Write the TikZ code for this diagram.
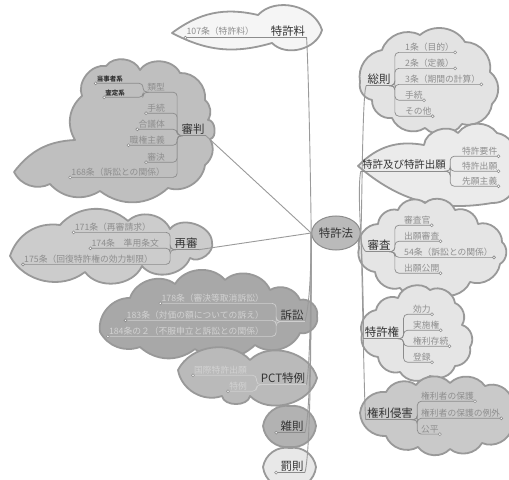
\documentclass[tikz,border=0pt]{standalone}
\usepackage{fontspec}
\setmainfont{Noto Sans CJK JP}
\usetikzlibrary{shapes.geometric}
\definecolor{txtmain}{HTML}{333333}
\definecolor{txtsub}{HTML}{8E8E8E}
\definecolor{txtpale}{HTML}{D2D2D2}
\definecolor{ulc}{HTML}{8C8C8C}
\definecolor{ulpale}{HTML}{CFCFCF}
\definecolor{connc}{HTML}{9A9A9A}
\definecolor{cloudc}{HTML}{999999}
\newcommand\mfs{\fontsize{11.5}{13}\selectfont}
\newcommand\mfss{\fontsize{10.5}{12}\selectfont}
\newcommand\sfs{\fontsize{8.8}{10}\selectfont}
\newcommand\tfs{\fontsize{6.5}{8}\selectfont\bfseries}
\tikzset{
  mlbl/.style={inner sep=1.2bp, text=txtmain, font=\mfs},
  slbl/.style={inner sep=1bp, text=txtsub, font=\sfs},
  plbl/.style={inner sep=1bp, text=txtpale, font=\sfs},
  tlbl/.style={inner sep=1bp, text=txtmain, font=\tfs},
  ul/.style={draw=ulc, line width=0.7bp, rounded corners=4bp},
  ulp/.style={draw=ulpale, line width=0.7bp, rounded corners=4bp},
  uldot/.style={circle, draw=ulc, fill=white, line width=0.6bp, inner sep=0pt, minimum size=3bp},
  conn/.style={draw=connc, line width=0.9bp},
  cloudbox/.style={draw=cloudc, line width=1.8bp, line join=round},
  bl/.style={bend left=#1}
}
\begin{document}
\begin{tikzpicture}[x=1bp,y=-1bp]
\useasboundingbox (0,0) rectangle (509,480);
\fill[white] (0,0) rectangle (509,480);

% ---------- clouds ----------
% 特許料
\path[cloudbox, fill=black!4] (172,33) to[bl=25] (258,15) to[bl=60] (322,30) to[bl=60] (272,43) to[bl=22] (172,33) -- cycle;
% 審判
\path[cloudbox, fill=black!25] (14,172) to[bl=25] (75,140) to[bl=40] (82,96) to[bl=60] (106,66) to[bl=60] (140,70) to[bl=60] (180,73) to[bl=50] (205,100) to[bl=40] (208,120) to[bl=90] (210,139) to[bl=40] (205,165) to[bl=50] (168,188) to[bl=40] (100,191) to[bl=40] (50,184) to[bl=45] (14,172) -- cycle;
% 再審
\path[cloudbox, fill=black!20] (10,256) to[bl=40] (60,225) to[bl=45] (128,221) to[bl=55] (170,229) to[bl=70] (212,242) to[bl=70] (190,258) to[bl=60] (142,266) to[bl=60] (85,272) to[bl=50] (10,256) -- cycle;
% 訴訟
\path[cloudbox, fill=black!34] (100,332) to[bl=50] (130,298) to[bl=55] (175,284) to[bl=55] (225,280) to[bl=55] (270,290) to[bl=50] (300,300) to[bl=60] (317,316) to[bl=60] (300,333) to[bl=50] (255,345) to[bl=40] (195,349) to[bl=40] (140,347) to[bl=40] (100,332) -- cycle;
% PCT特例
\path[cloudbox, fill=black!27] (178,370) to[bl=55] (250,360) to[bl=60] (317,378) to[bl=60] (250,396) to[bl=80] (222,396) to[bl=50] (178,370) -- cycle;
% 雑則
\path[cloudbox, fill=black!30] (263,426) to[bl=45] (290,406) to[bl=45] (316,426) to[bl=45] (290,447) to[bl=45] (263,426) -- cycle;
% 罰則
\path[cloudbox, fill=black!9] (263,467) to[bl=45] (290,448) to[bl=45] (316,467) to[bl=45] (290,488) to[bl=45] (263,467) -- cycle;
% 総則
\path[cloudbox, fill=black!11] (360,82) to[bl=45] (382,50) to[bl=50] (420,35) to[bl=50] (465,42) to[bl=50] (490,72) to[bl=50] (492,104) to[bl=50] (462,124) to[bl=50] (425,128) to[bl=50] (392,118) to[bl=50] (372,100) to[bl=45] (360,82) -- cycle;
% 特許及び特許出願
\path[cloudbox, fill=black!8] (358,166) to[bl=28] (424,145) to[bl=65] (458,133) to[bl=55] (497,133) to[bl=45] (515,158) to[bl=20] (515,185) to[bl=40] (492,203) to[bl=25] (358,166) -- cycle;
% 審査
\path[cloudbox, fill=black!10] (359,248) to[bl=50] (378,224) to[bl=50] (398,210) to[bl=55] (425,203) to[bl=55] (455,210) to[bl=50] (478,224) to[bl=55] (502,242) to[bl=55] (500,264) to[bl=50] (470,282) to[bl=50] (435,292) to[bl=50] (400,288) to[bl=50] (375,272) to[bl=50] (359,248) -- cycle;
% 特許権
\path[cloudbox, fill=black!10] (362,334) to[bl=50] (376,310) to[bl=50] (398,298) to[bl=60] (430,290) to[bl=55] (455,303) to[bl=50] (462,325) to[bl=55] (470,347) to[bl=50] (455,366) to[bl=50] (430,376) to[bl=50] (400,372) to[bl=50] (378,357) to[bl=50] (362,334) -- cycle;
% 権利侵害
\path[cloudbox, fill=black!21] (360,413) to[bl=45] (386,392) to[bl=50] (416,385) to[bl=50] (450,383) to[bl=50] (485,386) to[bl=50] (512,400) to[bl=30] (512,428) to[bl=50] (482,443) to[bl=50] (450,449) to[bl=50] (418,447) to[bl=50] (386,436) to[bl=45] (360,413) -- cycle;

% ---------- nodes ----------
\node[ellipse, draw=black!45, line width=1bp, fill=black!27, minimum width=40bp, minimum height=34bp, inner sep=0pt, text=txtmain, font=\mfs] (c) at (336,233) {特許法};

% right side
\node[mlbl] (so) at (379,79) {総則};
\node[slbl, anchor=west] (so1) at (404,47) {1条（目的）};
\node[slbl, anchor=west] (so2) at (404,63) {2条（定義）};
\node[slbl, anchor=west] (so3) at (404,79) {3条（期間の計算）};
\node[slbl, anchor=west] (so4) at (404,95) {手続};
\node[slbl, anchor=west] (so5) at (404,111) {その他};

\node[mlbl, font=\mfss] (tk) at (404,165) {特許及び特許出願};
\node[slbl, anchor=west] (tk1) at (461,151) {特許要件};
\node[slbl, anchor=west] (tk2) at (461,166) {特許出願};
\node[slbl, anchor=west] (tk3) at (461,181) {先願主義};

\node[mlbl] (sa) at (379,245) {審査};
\node[slbl, anchor=west] (sa1) at (403,220) {審査官};
\node[slbl, anchor=west] (sa2) at (403,236) {出願審査};
\node[slbl, anchor=west] (sa3) at (403,252) {54条（訴訟との関係）};
\node[slbl, anchor=west] (sa4) at (403,268) {出願公開};

\node[mlbl] (kk) at (382,332) {特許権};
\node[slbl, anchor=west] (kk1) at (412,309) {効力};
\node[slbl, anchor=west] (kk2) at (412,325) {実施権};
\node[slbl, anchor=west] (kk3) at (412,341) {権利存続};
\node[slbl, anchor=west] (kk4) at (412,357) {登録};

\node[mlbl] (sh) at (390,413) {権利侵害};
\node[slbl, anchor=west] (sh1) at (420,396) {権利者の保護};
\node[slbl, anchor=west] (sh2) at (420,413) {権利者の保護の例外};
\node[slbl, anchor=west] (sh3) at (420,429) {公平};

% left side
\node[mlbl] (ryo) at (288,31) {特許料};
\node[slbl, anchor=east] (ryo1) at (255,31) {107条（特許料）};

\node[mlbl] (sp) at (193,129) {審判};
\node[slbl, anchor=east] (sp1) at (166,87) {類型};
\node[tlbl, anchor=east] (sp11) at (124,79) {当事者系};
\node[tlbl, anchor=east] (sp12) at (126,93) {査定系};
\node[slbl, anchor=east] (sp2) at (166,108) {手続};
\node[slbl, anchor=east] (sp3) at (166,124) {合議体};
\node[slbl, anchor=east] (sp4) at (166,140) {職権主義};
\node[slbl, anchor=east] (sp5) at (166,157) {審決};
\node[slbl, anchor=east] (sp6) at (166,172) {168条（訴訟との関係）};

\node[mlbl] (ss) at (186,243) {再審};
\node[slbl, anchor=east] (ss1) at (152,227) {171条（再審請求）};
\node[slbl, anchor=east] (ss2) at (160,243) {174条　準用条文};
\node[slbl, anchor=east] (ss3) at (154,259) {175条（回復特許権の効力制限）};

\node[mlbl] (sos) at (292,315) {訴訟};
\node[plbl, anchor=east] (sos1) at (265,298) {178条（審決等取消訴訟）};
\node[plbl, anchor=east] (sos2) at (265,315) {183条（対価の額についての訴え）};
\node[plbl, anchor=east] (sos3) at (265,331) {184条の２（不服申立と訴訟との関係）};

\node[mlbl] (pct) at (283,378) {PCT特例};
\node[plbl, anchor=east] (pct1) at (248,370) {国際特許出願};
\node[plbl, anchor=east] (pct2) at (248,386) {特例};

\node[mlbl] (zs) at (292,426) {雑則};
\node[mlbl] (bs) at (292,466) {罰則};

% ---------- trunk connectors ----------
\draw[conn] (c.east) .. controls (362,225) and (362,95) .. (so.south west);
\draw[conn] (c.east) .. controls (360,220) and (358,185) .. (tk.south west);
\draw[conn] (c.east) .. controls (360,236) and (362,250) .. (sa.south west);
\draw[conn] (c.east) .. controls (362,250) and (364,320) .. (kk.south west);
\draw[conn] (c.east) .. controls (362,260) and (364,400) .. (sh.south west);

\draw[conn] (c.west) .. controls (311,210) and (309,80) .. (ryo.south east);
\draw[conn] (c.west) -- (sp.south east);
\draw[conn] (c.west) -- (ss.south east);
\draw[conn] (c.west) .. controls (311,250) and (311,300) .. (sos.south east);
\draw[conn] (c.west) .. controls (311,260) and (311,360) .. (pct.south east);
\draw[conn] (c.west) .. controls (311,260) and (312,410) .. (zs.south east);
\draw[conn] (c.west) .. controls (311,260) and (312,450) .. (bs.south east);

% ---------- underlines / brackets ----------
% 総則
\draw[ul] (so.south west) -- (so.south east);
\foreach \n in {so1,so2,so3,so4,so5}
  \draw[ul] (so.south east) -- ++(3,0) |- (\n.south east) node[uldot]{};
% 特許及び特許出願
\draw[ul] (tk.south west) -- (tk.south east);
\foreach \n in {tk1,tk2,tk3}
  \draw[ul] (tk.south east) -- ++(3,0) |- (\n.south east) node[uldot]{};
% 審査
\draw[ul] (sa.south west) -- (sa.south east);
\foreach \n in {sa1,sa2,sa3,sa4}
  \draw[ul] (sa.south east) -- ++(3,0) |- (\n.south east) node[uldot]{};
% 特許権
\draw[ul] (kk.south west) -- (kk.south east);
\foreach \n in {kk1,kk2,kk3,kk4}
  \draw[ul] (kk.south east) -- ++(3,0) |- (\n.south east) node[uldot]{};
% 権利侵害
\draw[ul] (sh.south west) -- (sh.south east);
\foreach \n in {sh1,sh2,sh3}
  \draw[ul] (sh.south east) -- ++(3,0) |- (\n.south east) node[uldot]{};

% 特許料
\draw[ul] (ryo.south east) -- (ryo.south west) -- (ryo1.south west |- ryo.south west) node[uldot]{};
% 審判
\draw[ul] (sp.south east) -- (sp.south west);
\draw[ul] (sp.south west) -- ++(-3,0) |- (sp1.south west);
\foreach \n in {sp2,sp3,sp4,sp5,sp6}
  \draw[ul] (sp.south west) -- ++(-3,0) |- (\n.south west) node[uldot]{};
\foreach \n in {sp11,sp12}
  \draw[ul] (sp1.south west) -- ++(-3,0) |- (\n.south west) node[uldot]{};
% 再審
\draw[ul] (ss.south east) -- (ss.south west);
\foreach \n in {ss1,ss2,ss3}
  \draw[ul] (ss.south west) -- ++(-3,0) |- (\n.south west) node[uldot]{};
% 訴訟
\draw[ulp] (sos.south east) -- (sos.south west);
\foreach \n in {sos1,sos2,sos3}
  \draw[ulp] (sos.south west) -- ++(-3,0) |- (\n.south west) node[uldot]{};
% PCT特例
\draw[ulp] (pct.south east) -- (pct.south west);
\foreach \n in {pct1,pct2}
  \draw[ulp] (pct.south west) -- ++(-3,0) |- (\n.south west) node[uldot]{};
% 雑則, 罰則
\draw[ul] (zs.south east) -- (zs.south west) -- ++(-3,0) node[uldot]{};
\draw[ul] (bs.south east) -- (bs.south west) -- ++(-3,0) node[uldot]{};
\end{tikzpicture}
\end{document}
